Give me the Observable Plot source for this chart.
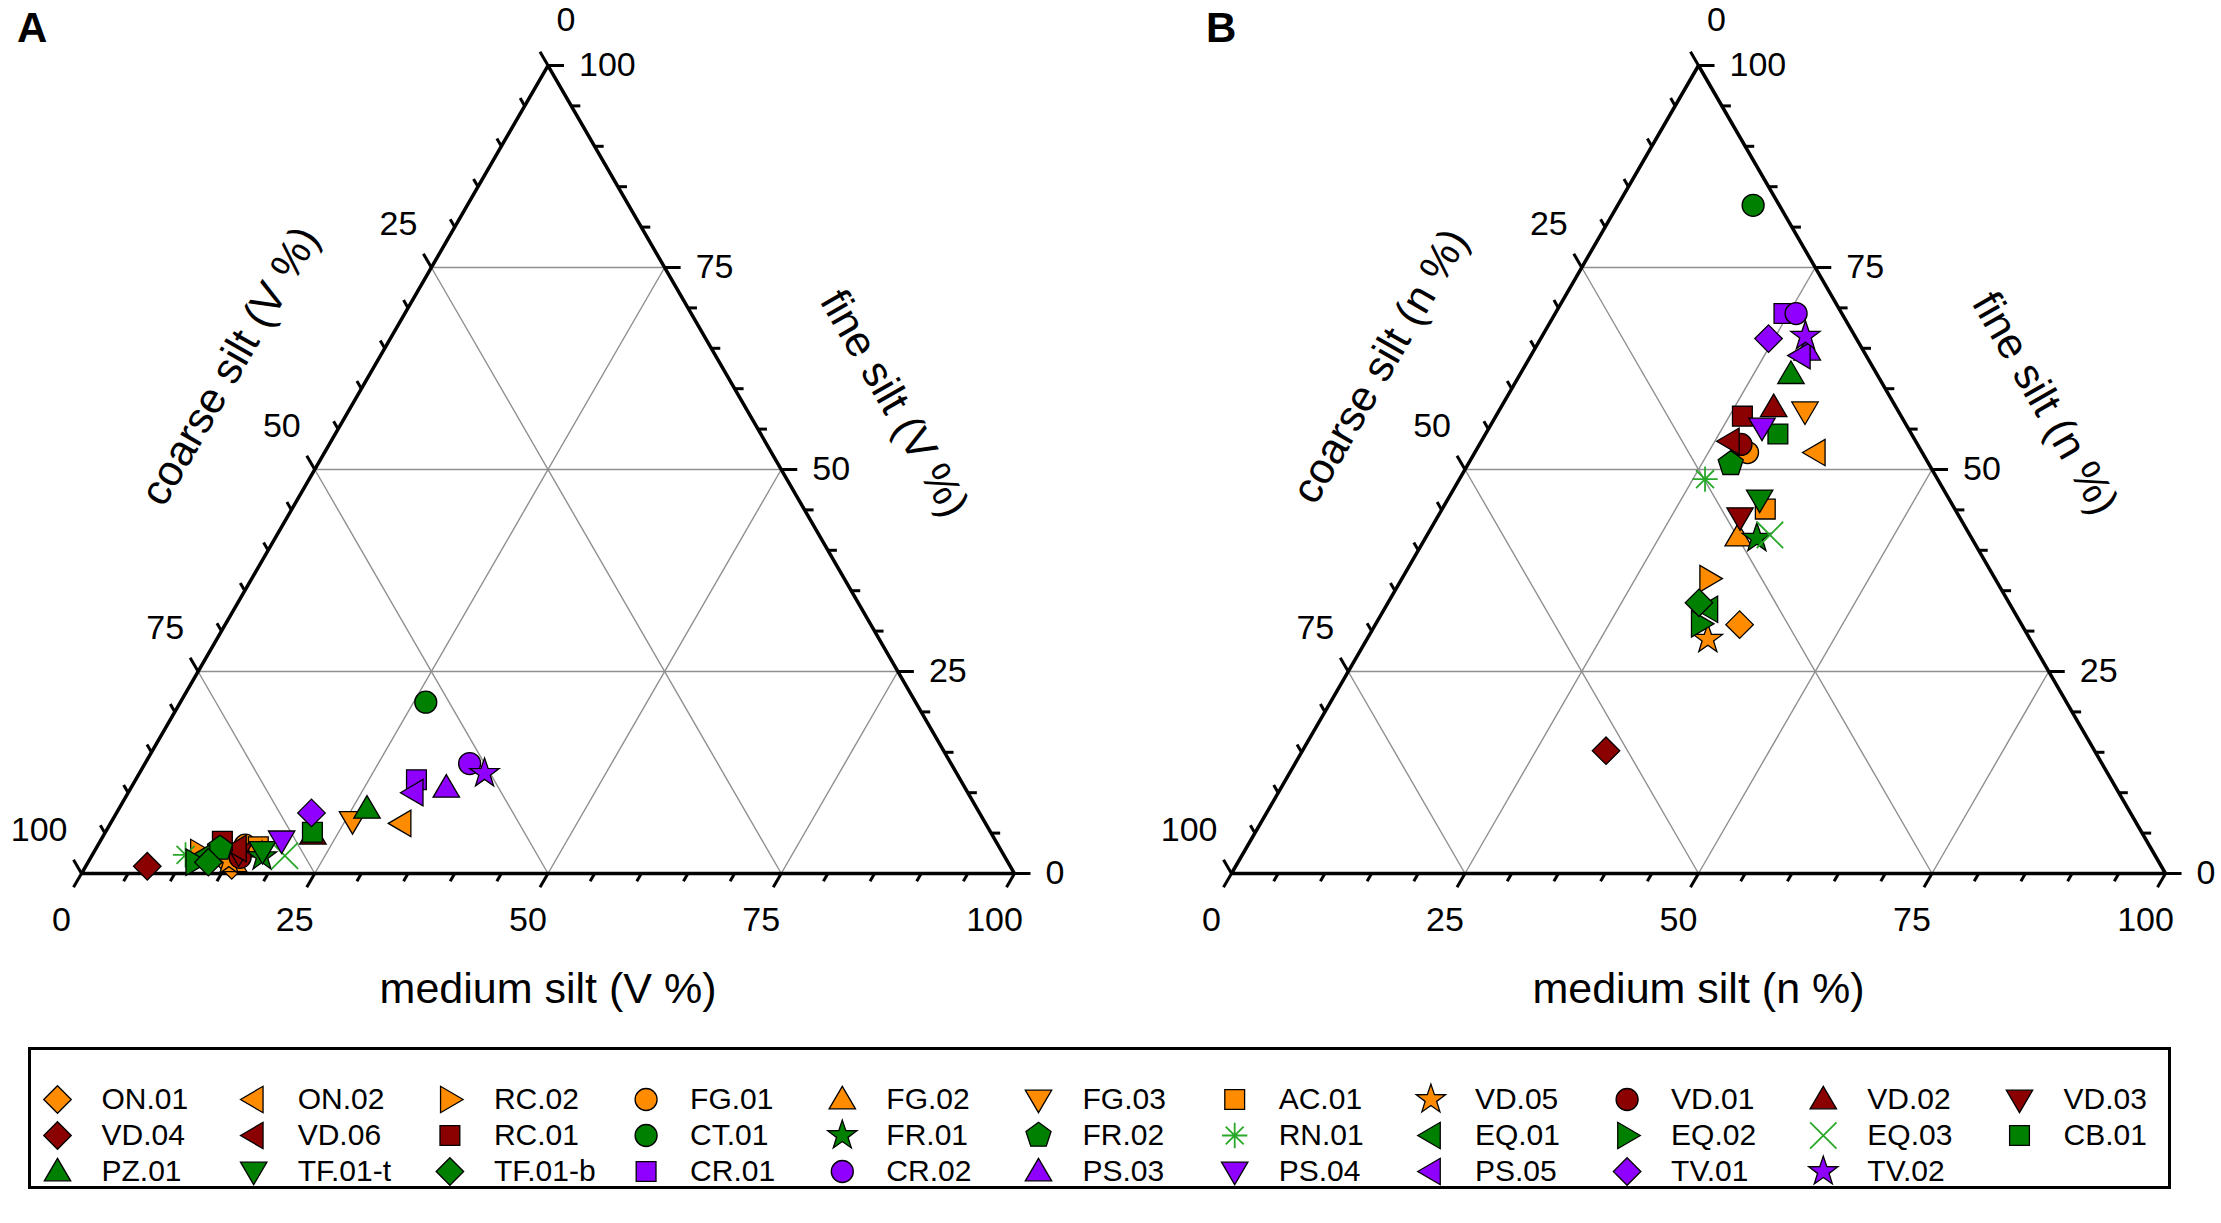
<!DOCTYPE html>
<html><head><meta charset="utf-8">
<script src="https://cdn.jsdelivr.net/npm/d3@7"></script>
<script src="https://cdn.jsdelivr.net/npm/@observablehq/plot@0.6"></script>
<style>
body{margin:0;background:#fff;font-family:"Liberation Sans",Arial,sans-serif;}
#wrap{position:relative;width:2221px;height:1223px;overflow:hidden;background:#fff;}
.panel{position:absolute;top:0;}
.letter{position:absolute;font-weight:bold;font-size:42px;line-height:42px;color:#000;}
#legendBox{position:absolute;left:28px;top:1047px;width:2137px;height:136px;border:3px solid #000;}
</style></head><body><div id="wrap"></div>
<script>
// ---------------- data ----------------
const samples = ["ON.01","ON.02","RC.02","FG.01","FG.02","FG.03","AC.01","VD.05","VD.01","VD.02","VD.03",
                 "VD.04","VD.06","RC.01","CT.01","FR.01","FR.02","RN.01","EQ.01","EQ.02","EQ.03","CB.01",
                 "PZ.01","TF.01-t","TF.01-b","CR.01","CR.02","PS.03","PS.04","PS.05","TV.01","TV.02"];
// Panel A (volume %)
const coarseA = [83.4,62.6,86.0,80.7,83.0,67.7,79.4,83.4,82.0,72.8,81.9,
                 92.5,81.8,82.9,52.5,79.6,83.6,87.7,86.3,87.1,77.1,72.7,
                 65.4,79.2,85.7,58.3,51.6,55.6,76.5,59.4,71.6,50.6];
const mediumA = [15.6,31.2,11.4,15.8,15.6,25.8,17.3,15.0,16.0,22.4,15.6,
                 6.6,15.1,13.1,26.3,18.3,13.3,10.0,11.8,11.5,20.7,22.2,
                 26.6,18.0,12.9,30.1,34.8,33.8,19.4,30.6,20.9,37.0];
const fineA   = [1.0,6.2,2.6,3.5,1.4,6.5,3.3,1.6,2.0,4.8,2.5,
                 0.9,3.1,4.0,21.2,2.1,3.1,2.3,1.9,1.4,2.2,5.1,
                 8.0,2.8,1.4,11.6,13.6,10.6,4.1,10.0,7.5,12.4];
// Panel B (number %)
const coarseB = [30.2,11.4,30.6,18.7,24.9,10.0,20.3,34.5,18.9,13.1,23.5,
                 52.3,19.9,17.0,2.8,23.0,21.2,24.9,32.6,34.3,21.4,14.3,
                 9.2,20.3,33.2,6.2,4.9,6.0,15.6,7.0,9.4,5.3];
const mediumB = [39.0,36.5,32.9,29.2,33.4,32.8,34.6,36.5,28.0,29.2,32.4,
                 32.5,26.6,26.4,14.5,35.5,28.1,26.3,34.7,34.8,36.7,31.3,
                 29.0,33.4,33.3,24.5,25.8,29.3,29.2,28.9,24.4,28.2];
const fineB   = [30.8,52.1,36.5,52.1,41.7,57.2,45.1,29.0,53.1,57.7,44.1,
                 15.2,53.5,56.6,82.7,41.5,50.7,48.8,32.7,30.9,41.9,54.4,
                 61.8,46.3,33.5,69.3,69.3,64.7,55.2,64.1,66.2,66.5];
const majorTicks = [0,25,50,75,100];
const gridValues = [25,50,75];
const panelLetters = ["A","B"];
const units = ["V %","n %"];

// ---------------- styles ----------------
const COL = {o:"#FF8C00", r:"#8B0000", g:"#008000", p:"#8F00FF", lg:"#2AA82A"};
const style = {
 "ON.01":["o","diamond"],"ON.02":["o","left"],"RC.02":["o","right"],"FG.01":["o","circle"],"FG.02":["o","up"],
 "FG.03":["o","down"],"AC.01":["o","square"],"VD.05":["o","star"],"VD.01":["r","circle"],"VD.02":["r","up"],
 "VD.03":["r","down"],"VD.04":["r","diamond"],"VD.06":["r","left"],"RC.01":["r","square"],"CT.01":["g","circle"],
 "FR.01":["g","star"],"FR.02":["g","pentagon"],"RN.01":["lg","asterisk"],"EQ.01":["g","left"],"EQ.02":["g","right"],
 "EQ.03":["lg","x"],"CB.01":["g","square"],"PZ.01":["g","up"],"TF.01-t":["g","down"],"TF.01-b":["g","diamond"],
 "CR.01":["p","square"],"CR.02":["p","circle"],"PS.03":["p","up"],"PS.04":["p","down"],"PS.05":["p","left"],
 "TV.01":["p","diamond"],"TV.02":["p","star"]
};
function mk(fn){ return {draw(ctx,size){ const r=Math.sqrt(size/Math.PI); fn(ctx,r); }}; }
function poly(ctx, pts){ ctx.moveTo(pts[0][0],pts[0][1]); for(let i=1;i<pts.length;i++) ctx.lineTo(pts[i][0],pts[i][1]); ctx.closePath(); }
const SYM = {
  circle: mk((c,r)=>{ c.moveTo(r,0); c.arc(0,0,r,0,2*Math.PI); }),
  square: mk((c,r)=>{ const s=r*0.9; poly(c,[[-s,-s],[s,-s],[s,s],[-s,s]]); }),
  diamond: mk((c,r)=>{ const a=r*1.25; poly(c,[[0,-a],[a,0],[0,a],[-a,0]]); }),
  up: mk((c,r)=>{ poly(c,[[0,-1.2*r],[1.2*r,0.85*r],[-1.2*r,0.85*r]]); }),
  down: mk((c,r)=>{ poly(c,[[0,1.2*r],[1.2*r,-0.85*r],[-1.2*r,-0.85*r]]); }),
  left: mk((c,r)=>{ poly(c,[[-1.2*r,0],[0.85*r,-1.2*r],[0.85*r,1.2*r]]); }),
  right: mk((c,r)=>{ poly(c,[[1.2*r,0],[-0.85*r,-1.2*r],[-0.85*r,1.2*r]]); }),
  star: mk((c,r)=>{ const pts=[]; for(let k=0;k<10;k++){ const a=-Math.PI/2+k*Math.PI/5; const rr=k%2?0.55*r:1.4*r; pts.push([rr*Math.cos(a),rr*Math.sin(a)]);} poly(c,pts); }),
  pentagon: mk((c,r)=>{ const pts=[]; for(let k=0;k<5;k++){ const a=-Math.PI/2+k*2*Math.PI/5; pts.push([1.2*r*Math.cos(a),1.2*r*Math.sin(a)]);} poly(c,pts); }),
  asterisk: mk((c,r)=>{ const R=1.15*r; for(let k=0;k<4;k++){ const a=k*Math.PI/4; c.moveTo(R*Math.cos(a),R*Math.sin(a)); c.lineTo(-R*Math.cos(a),-R*Math.sin(a)); } }),
  x: mk((c,r)=>{ const R=1.2*r; c.moveTo(-R,-R); c.lineTo(R,R); c.moveTo(R,-R); c.lineTo(-R,R); })
};
const strokeOnly = new Set(["asterisk","x"]);
function dotOpts(name){
  const [col, shape] = style[name];
  const open = strokeOnly.has(shape);
  return {symbol: SYM[shape], r: 11, fill: open ? "none" : COL[col], stroke: open ? COL[col] : "#000", strokeWidth: open ? 1.8 : 1.3};
}

// ---------------- ternary geometry ----------------
const S3 = Math.sqrt(3)/2;
const tx = (c,m,f) => m + f/2;
const ty = (c,m,f) => f*S3;
const PX = 9.33; // pixels per unit (side 933 px)
const ends = {
  medium: v => [tx(100-v,v,0), ty(100-v,v,0)],
  coarse: v => [tx(v,0,100-v), ty(v,0,100-v)],
  fine:   v => [tx(0,100-v,v), ty(0,100-v,v)]
};
const DIR = {medium:[-0.5,-S3], coarse:[-0.5,S3], fine:[1,0]};

function panel(k, coarse, medium, fine, left, mL, mR){
  const W=1110, H=1040, mT=65, mB=H-873;
  const grid = [];
  for (const v of gridValues) {
    grid.push({x1:tx(100-v,0,v), y1:ty(100-v,0,v), x2:tx(0,100-v,v), y2:ty(0,100-v,v)});
    grid.push({x1:tx(100-v,v,0), y1:ty(100-v,v,0), x2:tx(0,v,100-v), y2:ty(0,v,100-v)});
    grid.push({x1:tx(v,100-v,0), y1:ty(v,100-v,0), x2:tx(v,0,100-v), y2:ty(v,0,100-v)});
  }
  const ticks = [];
  for (const ax of ["medium","coarse","fine"]) {
    for (const v of d3.range(0,101,5)) {
      const [x,y] = ends[ax](v); const len = (majorTicks.includes(v) ? 16 : 9)/PX;
      ticks.push({x1:x, y1:y, x2:x+DIR[ax][0]*len, y2:y+DIR[ax][1]*len});
    }
  }
  const lab = ax => majorTicks.map(v => ({v, x: ends[ax](v)[0], y: ends[ax](v)[1], t: String(v)}));
  const outline = [[tx(100,0,0),ty(100,0,0)],[tx(0,100,0),ty(0,100,0)],[tx(0,0,100),ty(0,0,100)]];
  const pts = samples.map((s,i)=>({s, x: tx(coarse[i],medium[i],fine[i]), y: ty(coarse[i],medium[i],fine[i])}));
  const u = units[k];
  const plot = Plot.plot({
    width: W, height: H, marginLeft: mL, marginRight: mR, marginTop: mT, marginBottom: mB,
    x: {domain:[0,100], axis:null}, y: {domain:[0,100*S3], axis:null},
    style: {fontFamily:'"Liberation Sans", Arial, sans-serif', background:"transparent", overflow:"visible"},
    marks: [
      Plot.link(grid, {x1:"x1",y1:"y1",x2:"x2",y2:"y2", stroke:"#8f8f8f", strokeWidth:1.4}),
      Plot.line(outline, {x:d=>d[0], y:d=>d[1], curve:"linear-closed", stroke:"#000", strokeWidth:3.5, strokeLinejoin:"miter"}),
      Plot.link(ticks, {x1:"x1",y1:"y1",x2:"x2",y2:"y2", stroke:"#000", strokeWidth:3}),
      Plot.text(lab("medium"), {x:"x", y:"y", text:"t", dx:-20, dy:47, fontSize:34, fill:"#000"}),
      Plot.text(lab("coarse").filter(d=>d.v>0), {x:"x", y:"y", text:"t", dx:-14, dy:-43, textAnchor:"end", fontSize:34, fill:"#000"}),
      Plot.text(lab("coarse").filter(d=>d.v===0), {x:"x", y:"y", text:"t", dx:18, dy:-45, fontSize:34, fill:"#000"}),
      Plot.text(lab("fine"), {x:"x", y:"y", text:"t", dx:31, dy:0, textAnchor:"start", fontSize:34, fill:"#000"}),
      Plot.text([{x:tx(50,50,0), y:0}], {x:"x", y:"y", text:()=>`medium silt (${u})`, dy:116, fontSize:43, fill:"#000"}),
      Plot.text([{x:tx(45,0,55), y:ty(45,0,55)}], {x:"x", y:"y", text:()=>`coarse silt (${u})`, dx:-108, dy:-63, rotate:-60, fontSize:43, fill:"#000"}),
      Plot.text([{x:tx(0,50,50), y:ty(0,50,50)}], {x:"x", y:"y", text:()=>`fine silt (${u})`, dx:113, dy:-66, rotate:60, fontSize:43, fill:"#000"}),
      ...pts.map(p => Plot.dot([p], {x:"x", y:"y", ...dotOpts(p.s)}))
    ]
  });
  plot.classList.add("panel");
  plot.style.left = left + "px";
  return plot;
}

const wrap = document.getElementById("wrap");
wrap.appendChild(panel(0, coarseA, mediumA, fineA, 0, 81, 96));
wrap.appendChild(panel(1, coarseB, mediumB, fineB, 1110, 121, 55));
[[panelLetters[0],17],[panelLetters[1],1206]].forEach(([t,l])=>{
  const d=document.createElement("div"); d.className="letter"; d.textContent=t; d.style.left=l+"px"; d.style.top="7px"; wrap.appendChild(d);
});

// ---------------- legend ----------------
const box = document.createElement("div"); box.id="legendBox"; wrap.appendChild(box);
const legendItems = samples.map((s,i)=>({s, col: i%11, row: Math.floor(i/11)}));
const legend = Plot.plot({
  width: 2137, height: 136, marginLeft: 26, marginRight: 2137-1988, marginTop: 49, marginBottom: 15,
  x: {domain:[0,10], axis:null}, y: {domain:[0,2], axis:null, reverse:true},
  style: {fontFamily:'"Liberation Sans", Arial, sans-serif', background:"transparent", overflow:"visible"},
  marks: [
    ...legendItems.map(d => Plot.dot([d], {x:"col", y:"row", ...dotOpts(d.s)})),
    Plot.text(legendItems, {x:"col", y:"row", text:"s", dx:44, textAnchor:"start", fontSize:30, fill:"#000"})
  ]
});
legend.style.position="absolute"; legend.style.left="0px"; legend.style.top="0px";
box.appendChild(legend);
</script></body></html>
